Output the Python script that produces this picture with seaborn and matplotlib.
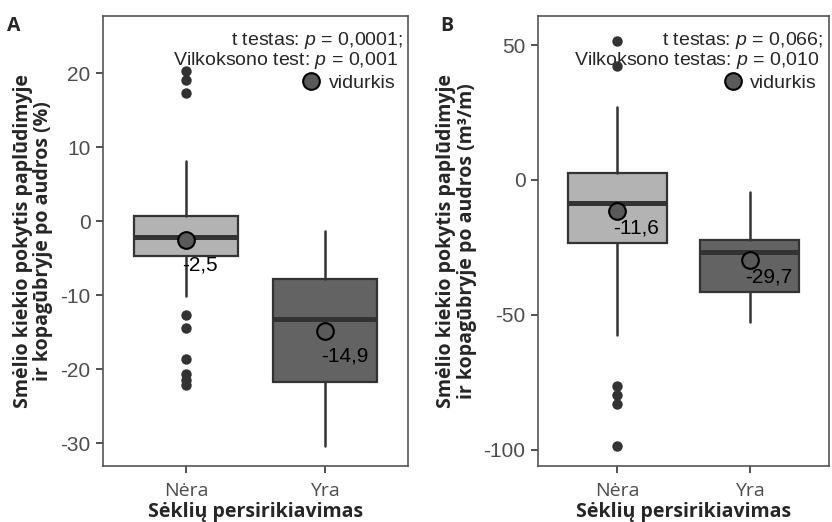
import matplotlib
matplotlib.use("Agg")
import matplotlib.pyplot as plt
from matplotlib.lines import Line2D
import seaborn as sns
import pandas as pd

sns.set_theme(style="white")
plt.rcParams["mathtext.fontset"] = "custom"
plt.rcParams["mathtext.rm"] = "Liberation Sans"
plt.rcParams["mathtext.it"] = "Liberation Sans:italic"

groups = ["Nėra", "Yra"]

# A: relative change (%)
a_q1 = [-4.7, -21.7]
a_med = [-2.2, -13.2]
a_q3 = [0.7, -7.8]
a_lo = [-10.1, -30.4]
a_hi = [8.1, -1.4]
a_mean = [-2.5, -14.9]
a_out_nera = [20.3, 19.0, 17.3, -12.7, -14.4, -18.6, -20.7, -21.5, -22.1]
a_out_yra = []

# B: volume change (m3/m)
b_q1 = [-23.5, -41.6]
b_med = [-8.7, -26.6]
b_q3 = [2.4, -22.4]
b_lo = [-57.6, -52.8]
b_hi = [27.0, -4.5]
b_mean = [-11.6, -29.7]
b_out_nera = [51.5, 42.3, -76.5, -79.7, -83.0, -98.6]
b_out_yra = []

tests_a = ["t testas: $\\mathit{p}$ = 0,0001;", "Vilkoksono test: $\\mathit{p}$ = 0,001"]
tests_b = ["t testas: $\\mathit{p}$ = 0,066;", "Vilkoksono testas: $\\mathit{p}$ = 0,010"]
ylab_a = "Smėlio kiekio pokytis paplūdimyje\nir kopagūbryje po audros (%)"
ylab_b = "Smėlio kiekio pokytis paplūdimyje\nir kopagūbryje po audros (m³/m)"
xlab = "Sėklių persirikiavimas"

box_fill = ["#b3b3b3", "#636363"]
edge = "#333333"
mean_fill = "#5a5a5a"

W, H = 832, 522
fig = plt.figure(figsize=(W / 100, H / 100), dpi=100)
ax_a = fig.add_axes([103 / W, 1 - 465.5 / H, 305 / W, 449.5 / H])
ax_b = fig.add_axes([538 / W, 1 - 465.5 / H, 291 / W, 449.5 / H])

TITLE_FONT = "Open Sans"
NUM_FONT = "Liberation Sans"


def panel(ax, q1, med, q3, lo, hi, mean, out_nera, out_yra, ylim, yticks,
          tests, ylab, letter, letter_x, text_x, label_dy):
    stats = []
    for i in range(2):
        stats.append(dict(med=med[i], q1=q1[i], q3=q3[i], whislo=lo[i],
                          whishi=hi[i], mean=mean[i], fliers=[]))
    bp = ax.bxp(stats, positions=[0, 1], widths=0.75, patch_artist=True,
                showfliers=False, showcaps=False, showmeans=False,
                boxprops=dict(edgecolor=edge, linewidth=1.6),
                whiskerprops=dict(color=edge, linewidth=1.8),
                medianprops=dict(color=edge, linewidth=3.6, solid_capstyle="butt"))
    for patch, c in zip(bp["boxes"], box_fill):
        patch.set_facecolor(c)

    outl = pd.DataFrame({
        "grupe": ["Nėra"] * len(out_nera) + ["Yra"] * len(out_yra),
        "val": list(out_nera) + list(out_yra),
    })
    sns.stripplot(data=outl, x="grupe", y="val", order=groups, jitter=False,
                  color=edge, size=7.5, linewidth=0, ax=ax, zorder=4)

    means = pd.DataFrame({"grupe": groups, "val": mean})
    sns.stripplot(data=means, x="grupe", y="val", order=groups, jitter=False,
                  color=mean_fill, size=12, edgecolor="black", linewidth=1.5,
                  ax=ax, zorder=5)
    for i, m in enumerate(mean):
        ax.annotate(f"{m:.1f}".replace(".", ","), (i, m), xytext=(-3, -label_dy),
                    textcoords="offset points", ha="left", va="center",
                    fontsize=15, family=NUM_FONT, color="black", zorder=6)

    ax.set_xlim(-0.6, 1.6)
    ax.set_ylim(*ylim)
    ax.set_yticks(yticks)
    ax.set_xticks([0, 1])
    ax.set_xticklabels(groups, family=TITLE_FONT, fontsize=14, color="#4d4d4d")
    ax.set_yticklabels([str(t) for t in yticks], family=NUM_FONT, fontsize=15,
                       color="#4d4d4d")
    ax.tick_params(axis="x", length=5, width=1.2, color="#333333", pad=7,
                   bottom=True)
    ax.tick_params(axis="y", length=5, width=1.2, color="#333333", pad=4,
                   left=True)
    ax.set_xlabel(xlab, family=TITLE_FONT, fontweight="bold", fontsize=14,
                  labelpad=1)
    ax.set_ylabel(ylab, family=TITLE_FONT, fontweight="bold", fontsize=14,
                  labelpad=5, linespacing=1.05)
    for s in ax.spines.values():
        s.set_color("#555555")
        s.set_linewidth(1.2)
    ax.grid(False)

    ax.text(text_x[0], 0.935, tests[0], transform=ax.transAxes, ha="right",
            va="baseline", fontsize=14, family=NUM_FONT)
    ax.text(text_x[1], 0.891, tests[1], transform=ax.transAxes, ha="right",
            va="baseline", fontsize=14, family=NUM_FONT)
    handle = Line2D([], [], marker="o", linestyle="none", markersize=12,
                    markerfacecolor=mean_fill, markeredgecolor="black",
                    markeredgewidth=1.5)
    ax.legend([handle], ["vidurkis"], loc="center right",
              bbox_to_anchor=(text_x[1] - 0.01, 0.851), frameon=False,
              prop=dict(family=NUM_FONT, size=14), handlelength=1.0,
              handletextpad=0.4, borderpad=0, borderaxespad=0)
    ax.text(letter_x, 1.0, letter, transform=ax.transAxes, ha="left", va="top",
            fontsize=14, fontweight="bold", family=TITLE_FONT)


panel(ax_a, a_q1, a_med, a_q3, a_lo, a_hi, a_mean, a_out_nera, a_out_yra,
      (-33.0, 27.7), [20, 10, 0, -10, -20, -30], tests_a, ylab_a, "A", -0.315,
      (0.984, 0.968), 18)
panel(ax_b, b_q1, b_med, b_q3, b_lo, b_hi, b_mean, b_out_nera, b_out_yra,
      (-105.9, 60.8), [50, 0, -50, -100], tests_b, ylab_b, "B", -0.337,
      (0.979, 0.969), 12)

fig.savefig("out.png", dpi=100)
